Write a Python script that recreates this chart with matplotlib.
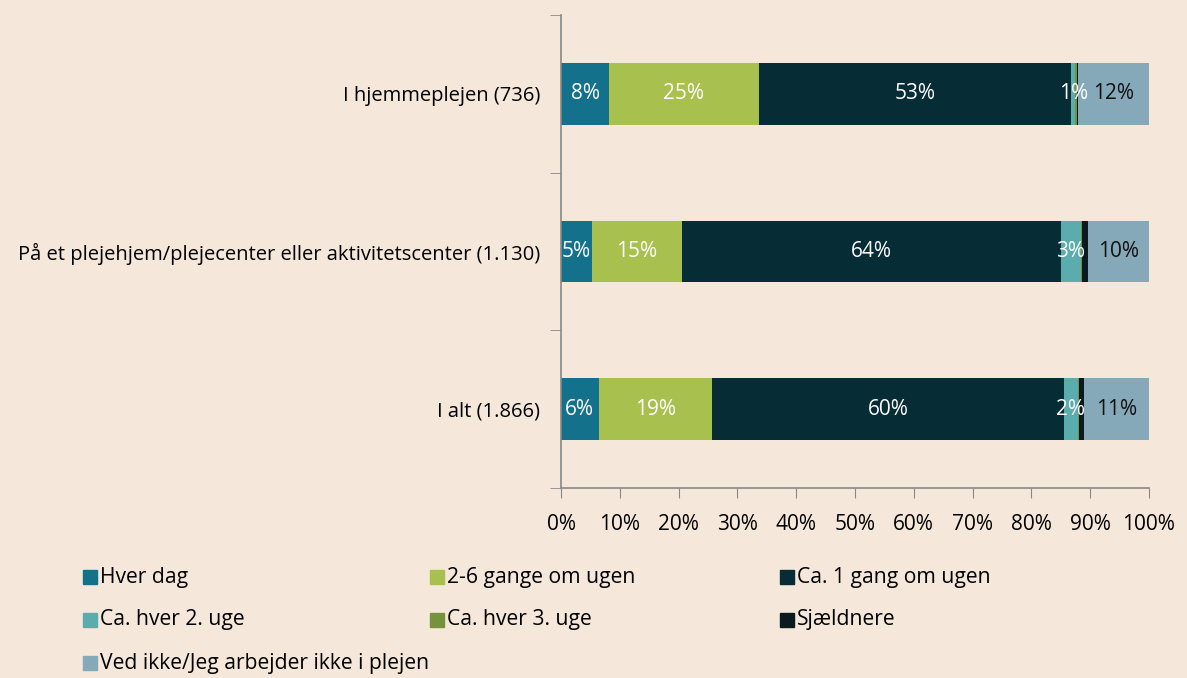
import numpy as np
import matplotlib.pyplot as plt
from matplotlib.patches import Rectangle

plt.rcParams['font.family'] = ['Open Sans', 'DejaVu Sans']

categories = ['I hjemmeplejen (736)',
              'På et plejehjem/plejecenter eller aktivitetscenter (1.130)',
              'I alt (1.866)']
series = ['Hver dag', '2-6 gange om ugen', 'Ca. 1 gang om ugen',
          'Ca. hver 2. uge', 'Ca. hver 3. uge', 'Sjældnere',
          'Ved ikke/Jeg arbejder ikke i plejen']
values = [
    [8.2, 5.2, 6.4],
    [25.4, 15.4, 19.3],
    [53.2, 64.4, 59.8],
    [0.6, 3.4, 2.4],
    [0.3, 0.2, 0.2],
    [0.3, 1.0, 0.9],
    [12.0, 10.4, 11.0],
]
colors = ['#13718c', '#a8c04e', '#062c35', '#5aadac', '#76923c', '#0a1a1e', '#85a9b9']
text_colors = ['white', 'white', 'white', 'white', None, None, '#111111']

bg = '#f5e8da'
fig = plt.figure(figsize=(11.87, 6.78), dpi=100, facecolor=bg)
ax = fig.add_axes([561 / 1187, 1 - 488 / 678, 588 / 1187, 473 / 678])
ax.set_facecolor(bg)

y = np.arange(len(categories))
left = np.zeros(len(categories))
for vals, col, tc in zip(values, colors, text_colors):
    vals = np.array(vals)
    ax.barh(y, vals, left=left, height=0.39, color=col, edgecolor='none')
    if tc is not None:
        for yi, v, l in zip(y, vals, left):
            ax.text(l + v / 2, yi, f'{round(v)}%', ha='center', va='center',
                    color=tc, fontsize=15)
    left += vals

ax.set_xlim(0, 100)
ax.set_ylim(len(categories) - 0.5, -0.5)
ax.set_xticks(np.arange(0, 101, 10))
ax.set_xticklabels([f'{t}%' for t in range(0, 101, 10)], fontsize=15)
ax.set_yticks(y)
ax.set_yticklabels(categories, fontsize=14.5)
ax.set_yticks(np.arange(-0.5, len(categories), 1), minor=True)
ax.tick_params(axis='y', which='major', length=0, pad=15)
ax.tick_params(axis='y', which='minor', length=8, color='#888888')
ax.tick_params(axis='x', length=7, color='#888888', pad=12)
for s in ['top', 'right']:
    ax.spines[s].set_visible(False)
for s in ['left', 'bottom']:
    ax.spines[s].set_color('#888888')
    ax.spines[s].set_linewidth(1.2)

# legend, row-wise in three columns
col_x = [83, 430, 780]
row_y = [577, 620, 663]
for i, (name, col) in enumerate(zip(series, colors)):
    r, c = divmod(i, 3)
    x0 = col_x[c] / 1187
    y0 = 1 - row_y[r] / 678
    fig.add_artist(Rectangle((x0, y0 - 7 / 678), 14 / 1187, 14 / 678,
                             transform=fig.transFigure, color=col))
    fig.text(x0 + 17 / 1187, y0, name, ha='left', va='center', fontsize=15.2)

fig.savefig('out.png', dpi=100, facecolor=bg)
